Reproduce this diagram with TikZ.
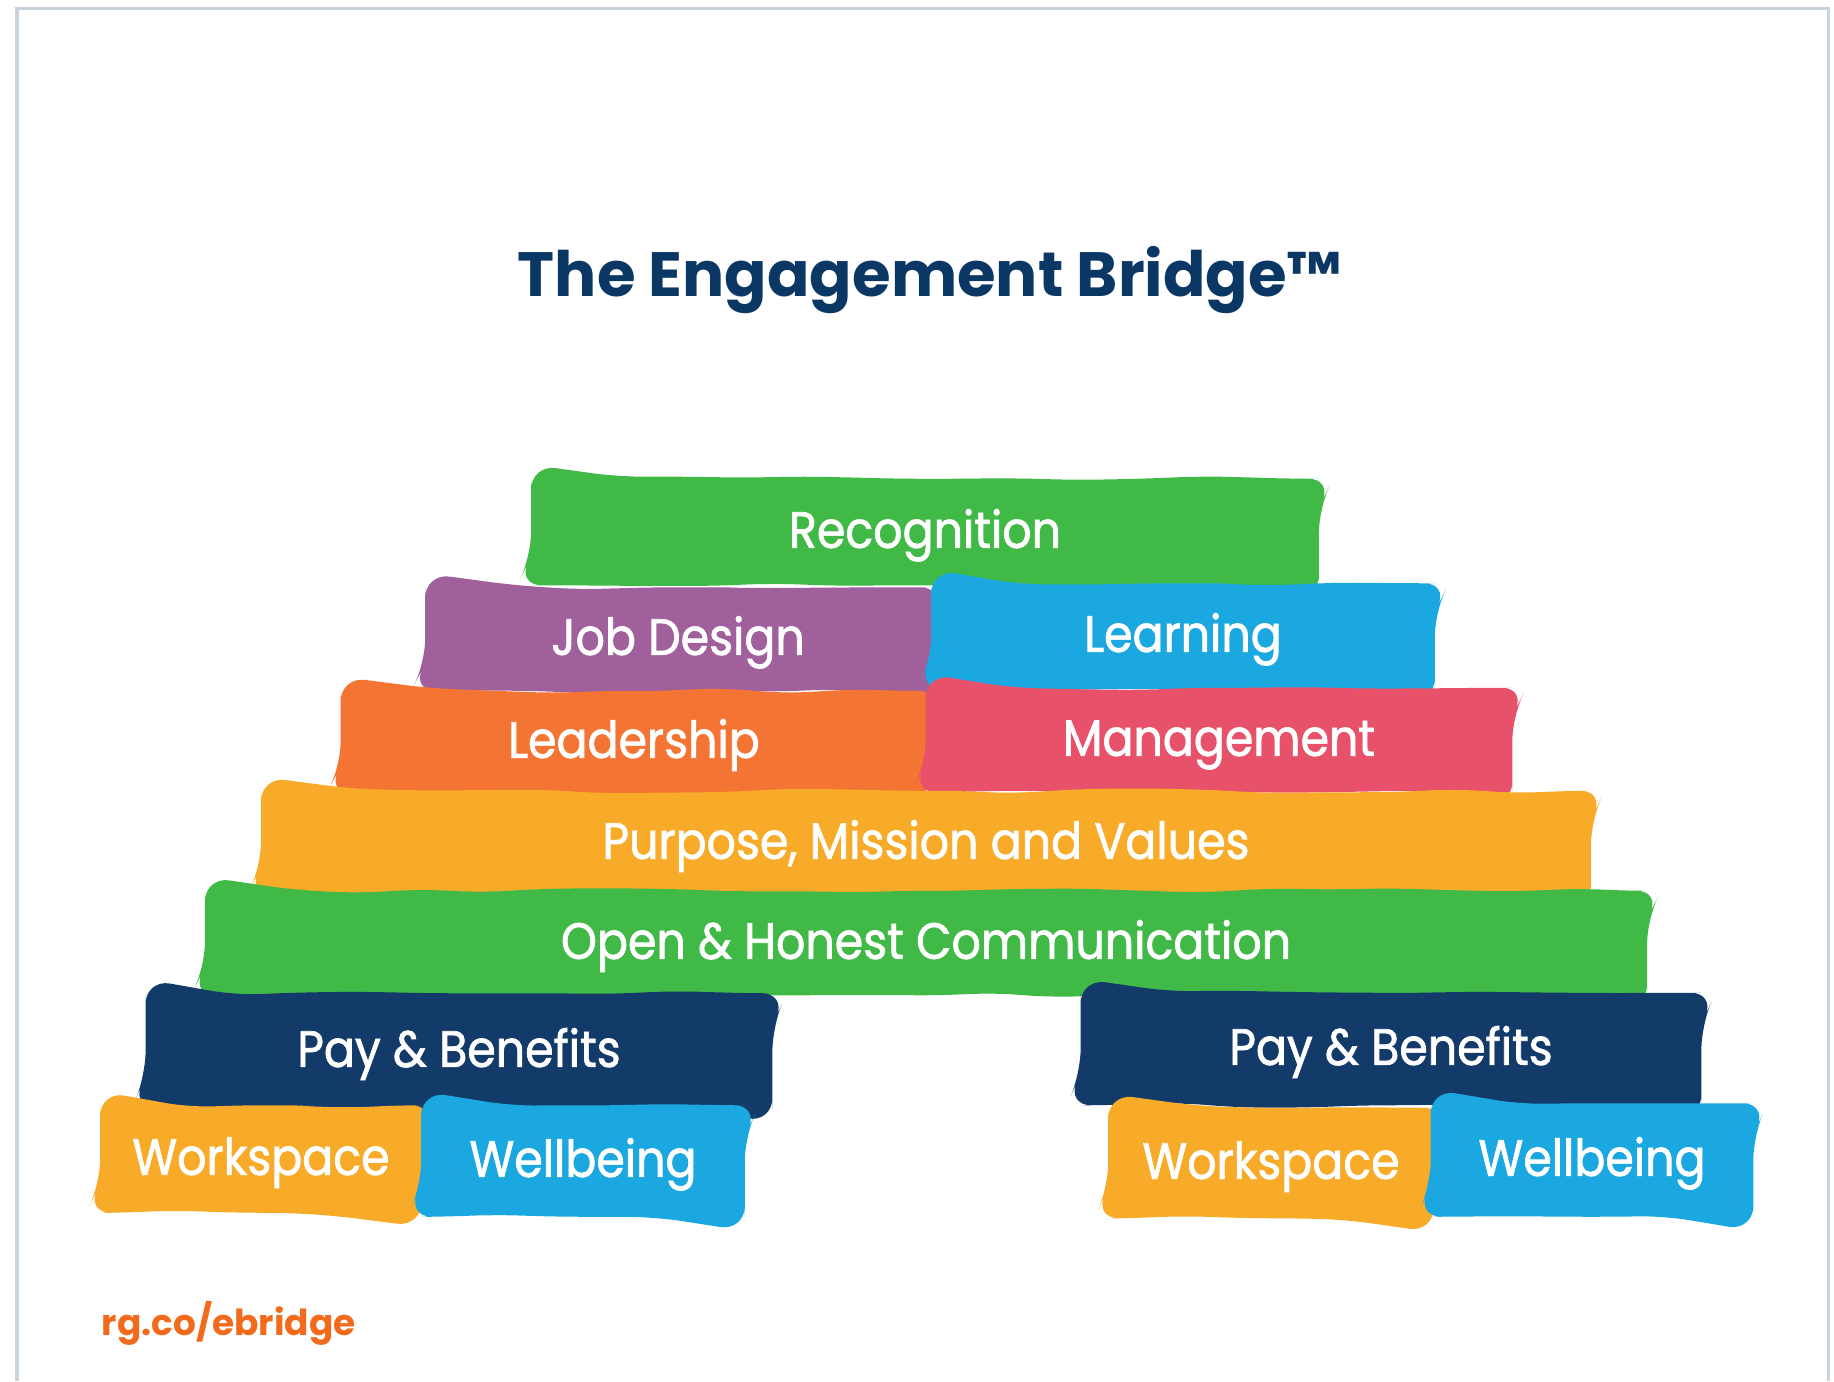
\documentclass[tikz,border=0pt]{standalone}
\usepackage{fontspec}
\usepackage{xcolor}
\usetikzlibrary{decorations.pathmorphing,backgrounds}
\newfontfamily\headfont{Poppins}
\newfontfamily\brickfont{Poppins}[FakeBold=1.4,FakeStretch=0.9]
\definecolor{ebgreen}{HTML}{41B947}
\definecolor{ebpurple}{HTML}{A0609C}
\definecolor{ebblue}{HTML}{1BA8E0}
\definecolor{eborange}{HTML}{F47433}
\definecolor{ebpink}{HTML}{E8516A}
\definecolor{ebyellow}{HTML}{F8AB29}
\definecolor{ebnavy}{HTML}{133B6A}
\definecolor{ebtitle}{HTML}{0B3765}
\definecolor{eblink}{HTML}{F26B1D}
\definecolor{ebframe}{HTML}{C9D3DD}

\begin{document}
\pgfmathsetseed{7}
\begin{tikzpicture}[
    x=0.01cm, y=-0.01cm,
    brick/.style={text=white, inner sep=0pt, text height=0.9em, text depth=0pt,
        font=\brickfont\fontsize{14.5}{16}\selectfont},
    rough/.style={decorate, decoration={random steps, segment length=18pt, amplitude=0.75pt},
        rounded corners=7pt},
    title/.style={font=\headfont\bfseries\fontsize{17.8}{20}\selectfont, text=ebtitle, inner sep=0pt},
    link/.style={font=\headfont\bfseries\fontsize{10.2}{12}\selectfont, text=eblink, inner sep=0pt},
]
\useasboundingbox (0,0) rectangle (1834,1381);
% page frame
\draw[ebframe, line width=0.03cm] (17,1381) -- (17,8) -- (1828,8) -- (1828,1381);

% Heading
\node[title, anchor=base] (head) at (930,296) {The Engagement Bridge™};

% Top of the bridge
\node[brick, minimum width=7.86cm, minimum height=1.05cm] (recog) at (925,532) {Recognition};
\node[brick, minimum width=5.04cm, minimum height=1.02cm] (jobdes) at (678,639) {Job Design};
\node[brick, minimum width=5.02cm, minimum height=1.04cm] (learn) at (1183,636) {Learning};
\node[brick, minimum width=5.85cm, minimum height=1.01cm] (lead) at (634,742) {Leadership};
\node[brick, minimum width=5.85cm, minimum height=1.03cm] (manage) at (1219,740) {Management};
\node[brick, minimum width=13.28cm, minimum height=1.03cm] (purpose) at (926,843) {Purpose, Mission and Values};
\node[brick, minimum width=14.40cm, minimum height=1.03cm] (comms) at (926,943) {Open \& Honest Communication};

% Left pillar
\node[brick, minimum width=6.25cm, minimum height=1.14cm] (payl) at (459,1051) {Pay \& Benefits};
\node[brick, minimum width=3.20cm, minimum height=1.06cm] (workl) at (261,1159) {Workspace};
\node[brick, minimum width=3.22cm, minimum height=1.10cm] (welll) at (583,1161) {Wellbeing};

% Right pillar
\node[brick, minimum width=6.19cm, minimum height=1.11cm] (payr) at (1391,1049) {Pay \& Benefits};
\node[brick, minimum width=3.24cm, minimum height=1.09cm] (workr) at (1271,1163) {Workspace};
\node[brick, minimum width=3.21cm, minimum height=1.12cm] (wellr) at (1592,1160) {Wellbeing};

% hand-painted fills behind the labels
\begin{pgfonlayer}{background}
\foreach \b/\c in {recog/ebgreen, jobdes/ebpurple, learn/ebblue, lead/eborange,
    manage/ebpink, purpose/ebyellow, comms/ebgreen, payl/ebnavy, workl/ebyellow,
    welll/ebblue, payr/ebnavy, workr/ebyellow, wellr/ebblue}
  \fill[\c, rough] (\b.north) -| (\b.east) |- (\b.south) -| (\b.west) |- (\b.north) -- cycle;
\end{pgfonlayer}

% Link
\node[link, anchor=base west] (url) at (101,1335) {rg.co/ebridge};
\end{tikzpicture}
\end{document}
